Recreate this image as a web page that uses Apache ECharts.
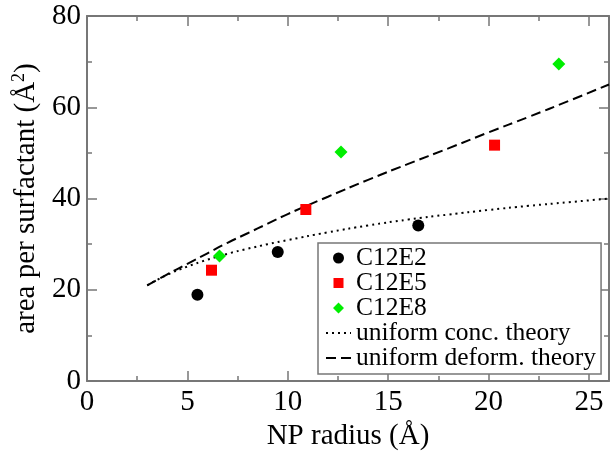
<!DOCTYPE html>
<html>
<head>
<meta charset="utf-8">
<script src="https://cdn.jsdelivr.net/npm/echarts@6/dist/echarts.min.js"></script>
<style>
html,body{margin:0;padding:0;background:#fff;}
#chart{width:614px;height:456px;}
</style>
</head>
<body>
<div id="chart"></div>
<script>
// Data
const seriesNames = ['C12E2', 'C12E5', 'C12E8', 'uniform conc. theory', 'uniform deform. theory'];
const e2X = [5.5, 9.5, 16.5];
const e2Y = [18.9, 28.3, 34.1];
const e5X = [6.2, 10.9, 20.3];
const e5Y = [24.3, 37.6, 51.7];
const e8X = [6.6, 12.65, 23.5];
const e8Y = [27.4, 50.2, 69.5];
const concX = [3, 4, 5, 6, 7, 8, 9, 10, 12, 14, 16, 18, 20, 22, 24, 26];
const concY = [21.0, 23.3, 25.1, 26.6, 27.9, 29.0, 30.0, 30.9, 32.6, 34.1, 35.4, 36.5, 37.5, 38.4, 39.2, 40.0];
const deformX = [3, 4, 5, 6, 7, 8, 9, 10, 12, 14, 16, 18, 20, 22, 24, 26];
const deformY = [21.0, 23.4, 25.7, 28.0, 30.3, 32.4, 34.5, 36.6, 40.4, 44.1, 47.6, 51.0, 54.5, 57.9, 61.4, 65.0];
const xTicks = [0, 5, 10, 15, 20, 25];
const yTicks = [0, 20, 40, 60, 80];

const pairs = (xs, ys) => xs.map((x, i) => [x, ys[i]]);
const FONT = 'Liberation Serif';
const FRAME = '#777777';

// legend icons: tiny corner specks fix the icon box at 25x11 so the marker keeps its shape
const ICON_SQUARE = 'path://M0,0L0.01,0L0,0.01Z M25,11L24.99,11L25,10.99Z M7.5,0.5L17.5,0.5L17.5,10.5L7.5,10.5Z';
const ICON_DIAMOND = 'path://M0,0L0.01,0L0,0.01Z M25,11L24.99,11L25,10.99Z M12.5,-0.3L18.3,5.5L12.5,11.3L6.7,5.5Z';

function frameAxis(extra) {
  return Object.assign({
    type: 'value',
    axisLine: { show: true, onZero: false, lineStyle: { color: FRAME, width: 2 } },
    axisTick: { show: true, inside: true, length: 10, lineStyle: { color: FRAME, width: 1.5 } },
    minorTick: { show: true, splitNumber: 2, length: 5, lineStyle: { color: FRAME, width: 1.5 } },
    splitLine: { show: false },
    minorSplitLine: { show: false }
  }, extra);
}

const chart = echarts.init(document.getElementById('chart'), null, { renderer: 'canvas' });
chart.setOption({
  backgroundColor: '#ffffff',
  animation: false,
  grid: { left: 87, right: 5, top: 16, bottom: 73, containLabel: false },
  xAxis: [
    frameAxis({
      position: 'bottom', min: 0, max: 26, interval: 5,
      axisLabel: { show: true, color: '#000', fontFamily: FONT, fontSize: 29, margin: 7,
        formatter: v => (xTicks.indexOf(v) >= 0 ? String(v) : '') },
      name: 'NP radius (Å)', nameLocation: 'middle', nameGap: 29,
      nameTextStyle: { color: '#000', fontFamily: FONT, fontSize: 29 }
    }),
    frameAxis({ position: 'top', min: 0, max: 26, interval: 5, axisLabel: { show: false } })
  ],
  yAxis: [
    frameAxis({
      position: 'left', min: 0, max: 80, interval: 20,
      axisLabel: { show: true, color: '#000', fontFamily: FONT, fontSize: 29, margin: 6,
        formatter: v => (yTicks.indexOf(v) >= 0 ? String(v) : '') },
      name: 'area per surfactant (Å{sup|2})', nameLocation: 'middle', nameGap: 45, nameRotate: 90,
      nameTextStyle: { color: '#000', fontFamily: FONT, fontSize: 29,
        rich: { sup: { fontFamily: FONT, fontSize: 18, color: '#000', verticalAlign: 'bottom', padding: [0, 0, 14, 0] } } }
    }),
    frameAxis({ position: 'right', min: 0, max: 80, interval: 20, axisLabel: { show: false } })
  ],
  legend: {
    orient: 'vertical', left: 318, top: 243,
    data: [
      { name: seriesNames[0], icon: 'circle' },
      { name: seriesNames[1], icon: ICON_SQUARE },
      { name: seriesNames[2], icon: ICON_DIAMOND },
      { name: seriesNames[3] },
      { name: seriesNames[4] }
    ],
    itemWidth: 25, itemHeight: 11, itemGap: -1,
    padding: [2, 5, 3, 7],
    borderColor: FRAME, borderWidth: 1.5, borderRadius: 0,
    backgroundColor: '#fff',
    textStyle: { color: '#000', fontFamily: FONT, fontSize: 25.5, lineHeight: 24 },
    selectedMode: false
  },
  series: [
    { name: seriesNames[0], type: 'scatter', data: pairs(e2X, e2Y), symbol: 'circle', symbolSize: 12,
      itemStyle: { color: '#000000', opacity: 1 }, z: 5 },
    { name: seriesNames[1], type: 'scatter', data: pairs(e5X, e5Y), symbol: 'rect', symbolSize: 11,
      itemStyle: { color: '#ff0000', opacity: 1 }, z: 5 },
    { name: seriesNames[2], type: 'scatter', data: pairs(e8X, e8Y), symbol: 'diamond', symbolSize: 13,
      itemStyle: { color: '#00ee00', opacity: 1 }, z: 5 },
    { name: seriesNames[3], type: 'line', data: pairs(concX, concY), symbol: 'none', smooth: true,
      itemStyle: { color: 'rgba(0,0,0,0)' },
      lineStyle: { color: '#000', width: 2, type: [2, 4] }, z: 3 },
    { name: seriesNames[4], type: 'line', data: pairs(deformX, deformY), symbol: 'none', smooth: true,
      itemStyle: { color: 'rgba(0,0,0,0)' },
      lineStyle: { color: '#000', width: 2, type: [10, 5] }, z: 3 }
  ]
});
</script>
</body>
</html>
